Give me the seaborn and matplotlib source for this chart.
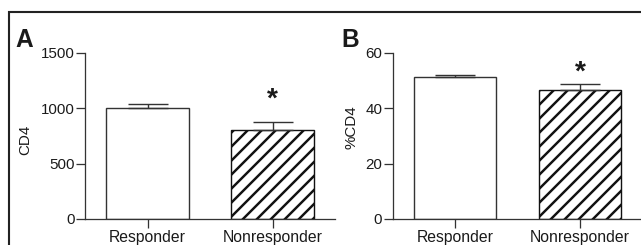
import matplotlib
matplotlib.use("Agg")
import matplotlib.pyplot as plt
from matplotlib.patches import Rectangle
import seaborn as sns

# ----------------------------
# Data
# ----------------------------
groups = ["Responder", "Nonresponder"]
cd4_mean = [1003, 804]
cd4_err = [35, 75]
pct_mean = [51.1, 46.4]
pct_err = [0.9, 2.3]

cd4_ticks = [0, 500, 1000, 1500]
pct_ticks = [0, 20, 40, 60]

sns.set_theme(style="ticks")
plt.rcParams["font.family"] = ["Liberation Sans", "DejaVu Sans"]
plt.rcParams["hatch.linewidth"] = 2.1
plt.rcParams["hatch.color"] = "#111111"

DPI = 84
line_col = "#333333"
text_col = "#1a1a1a"

fig = plt.figure(figsize=(641 / DPI, 245 / DPI), dpi=DPI)
ax_a = fig.add_axes([85 / 641, 26 / 245, 250 / 641, 166.3 / 245])
ax_b = fig.add_axes([392.7 / 641, 26 / 245, 250 / 641, 166.3 / 245])


def draw_panel(ax, means, errs, ticks, ylabel, label_x, label_y):
    sns.barplot(x=groups, y=means, ax=ax, color="white", edgecolor=line_col,
                linewidth=1.2, width=0.66, errorbar=None, saturation=1)
    bars = ax.patches
    for b in bars:
        b.set_facecolor("white")
        b.set_edgecolor(line_col)
    bars[1].set_hatch("//")
    bars[1].set_edgecolor("#111111")

    # one-sided upper error bars (Prism style)
    ax.errorbar(range(len(groups)), means, yerr=[[0] * len(errs), errs],
                fmt="none", ecolor=line_col, elinewidth=1.2, capsize=17.5,
                capthick=1.2, zorder=1)

    ax.set_xlim(-0.5, 1.5)
    ax.set_ylim(ticks[0], ticks[-1])
    ax.set_yticks(ticks)
    ax.set_yticklabels([str(t) for t in ticks])
    ax.set_ylabel(ylabel, fontsize=13, color=text_col)
    ax.yaxis.set_label_coords(label_x, label_y)
    ax.set_xlabel("")
    sns.despine(ax=ax)
    for side in ["left", "bottom"]:
        ax.spines[side].set_color(line_col)
        ax.spines[side].set_linewidth(1.1)
    ax.tick_params(axis="y", direction="out", length=7.5, width=1.1,
                   color=line_col, labelsize=13, labelcolor=text_col, pad=1.5)
    ax.tick_params(axis="x", direction="out", length=7.5, width=1.1,
                   color=line_col, labelsize=13.5, labelcolor=text_col, pad=2)
    ax.set_facecolor("white")


draw_panel(ax_a, cd4_mean, cd4_err, cd4_ticks, "CD4", -0.213, 0.475)
draw_panel(ax_b, pct_mean, pct_err, pct_ticks, "%CD4", -0.135, 0.553)

# significance stars
ax_a.text(1, 1018, "*", ha="center", va="baseline", fontsize=24,
          fontweight="bold", color=text_col)
ax_b.text(1, 50.3, "*", ha="center", va="baseline", fontsize=24,
          fontweight="bold", color=text_col)

# panel letters
fig.text(15 / 641, 1 - 47 / 245, "A", fontsize=21, fontweight="bold",
         color=text_col, ha="left", va="baseline")
fig.text(341 / 641, 1 - 47 / 245, "B", fontsize=21, fontweight="bold",
         color=text_col, ha="left", va="baseline")

# outer frame (cut off at right and bottom like the source)
fig.add_artist(Rectangle((8.7 / 641, -0.2), 1.2, 0.2 + 1 - 12 / 245,
                         transform=fig.transFigure, fill=False,
                         edgecolor="#222222", linewidth=1.8))

fig.savefig("out.png", dpi=DPI, facecolor="white")
